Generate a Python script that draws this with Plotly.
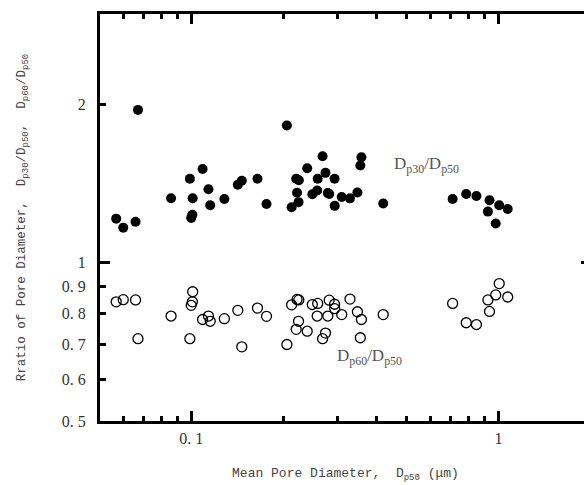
import math
import plotly.graph_objects as go

# Mean pore diameter D_p50 (μm) of each sample
d50 = [0.0570, 0.0601, 0.0659, 0.0671, 0.0860, 0.0990, 0.1000, 0.1009, 0.1011,
       0.1089, 0.1138, 0.1153, 0.1282, 0.1418, 0.1461, 0.1643, 0.1758, 0.2048,
       0.2122, 0.2196, 0.2210, 0.2235, 0.2240, 0.2385, 0.2478, 0.2570, 0.2580,
       0.2676, 0.2735, 0.2783, 0.2812, 0.2928, 0.2931, 0.3089, 0.3286, 0.3474,
       0.3551, 0.3580, 0.4215, 0.7090, 0.7851, 0.8475, 0.9237, 0.9348, 0.9792,
       1.0053, 1.0713]

# D_p30 / D_p50 (filled markers)
r30 = [1.214, 1.167, 1.198, 1.956, 1.328, 1.446, 1.218, 1.235, 1.328,
       1.509, 1.381, 1.287, 1.323, 1.409, 1.434, 1.446, 1.295, 1.826,
       1.276, 1.446, 1.360, 1.305, 1.437, 1.514, 1.351, 1.373, 1.446,
       1.596, 1.484, 1.359, 1.353, 1.446, 1.284, 1.335, 1.327, 1.361,
       1.533, 1.589, 1.297, 1.323, 1.353, 1.341, 1.252, 1.316, 1.188,
       1.287, 1.266]

# D_p60 / D_p50 (open markers)
r60 = [0.843, 0.851, 0.850, 0.717, 0.792, 0.717, 0.830, 0.843, 0.881,
       0.780, 0.792, 0.774, 0.783, 0.812, 0.692, 0.820, 0.791, 0.699,
       0.832, 0.747, 0.852, 0.774, 0.850, 0.741, 0.833, 0.792, 0.837,
       0.717, 0.735, 0.792, 0.849, 0.834, 0.818, 0.797, 0.853, 0.807,
       0.720, 0.780, 0.797, 0.837, 0.769, 0.763, 0.850, 0.808, 0.869,
       0.913, 0.861]

x_major = [0.1, 1]
x_major_text = ["0. 1", "1"]
x_minor = [0.06, 0.07, 0.08, 0.09, 0.2, 0.3, 0.4, 0.5, 0.6, 0.7, 0.8, 0.9, 2]
y_ticks = [0.5, 0.6, 0.7, 0.8, 0.9, 1, 2, 3]
y_tick_text = ["0. 5", "0. 6", "0. 7", "0. 8", "0. 9", "1", "2", ""]

# series labels placed next to each group: (D_p50, ratio)
label30_pos = (0.5816, 1.538)
label60_pos = (0.3796, 0.6606)

TICK_FONT = dict(family="Liberation Serif", size=16, color="#333333")
X_TITLE_FONT = dict(family="Liberation Mono", size=13, color="#444444")
Y_TITLE_FONT = dict(family="Liberation Mono", size=12.5, color="#444444")
LABEL_FONT = dict(family="Liberation Serif", size=17, color="#555555")


def sub(s, px=9):
    return f"<sub><span style='font-size:{px}px'>{s}</span></sub>"


fig = go.Figure()
fig.add_trace(go.Scatter(
    x=d50, y=r30, mode="markers",
    marker=dict(symbol="circle", size=10, color="black", line=dict(width=0)),
    showlegend=False,
))
fig.add_trace(go.Scatter(
    x=d50, y=r60, mode="markers",
    marker=dict(symbol="circle-open", size=10, color="black", line=dict(width=1.3)),
    showlegend=False,
))
# empty trace so the overlay axis carrying the long decade tick is drawn
fig.add_trace(go.Scatter(x=[], y=[], yaxis="y2", showlegend=False))

# annotation positions on log axes are given in log10 units
fig.add_annotation(x=math.log10(label30_pos[0]), y=math.log10(label30_pos[1]),
                   xref="x", yref="y", showarrow=False,
                   text="D<sub>p30</sub>/D<sub>p50</sub>", font=LABEL_FONT)
fig.add_annotation(x=math.log10(label60_pos[0]), y=math.log10(label60_pos[1]),
                   xref="x", yref="y", showarrow=False,
                   text="D<sub>p60</sub>/D<sub>p50</sub>", font=LABEL_FONT)

y_title = ("Rratio of Pore Diameter,\u00a0 D" + sub("p30") + "/D" + sub("p50")
           + ",\u00a0 D" + sub("p60") + "/D" + sub("p50"))
x_title = "Mean Pore Diameter,\u00a0 D" + sub("p50") + " (μm)"

fig.update_layout(
    width=600, height=485,
    margin=dict(l=100, r=9, t=14, b=64),
    paper_bgcolor="white", plot_bgcolor="white",
    xaxis=dict(
        type="log", range=[-1.2968, 0.301], automargin=False,
        tickvals=x_major, ticktext=x_major_text,
        ticks="inside", ticklen=10, tickwidth=3, tickcolor="black",
        minor=dict(tickvals=x_minor, ticks="inside", ticklen=5, tickwidth=3,
                   tickcolor="black", showgrid=False),
        showline=True, linewidth=3, linecolor="black", mirror="ticks",
        showgrid=False, zeroline=False,
        tickfont=TICK_FONT, ticklabelstandoff=1,
        title=dict(text=x_title, font=X_TITLE_FONT, standoff=22),
    ),
    yaxis=dict(
        type="log", range=[-0.3012, 0.474], automargin=False,
        tickvals=y_ticks, ticktext=y_tick_text,
        ticks="inside", ticklen=6, tickwidth=3, tickcolor="black",
        showline=True, linewidth=3, linecolor="black", mirror="ticks",
        showgrid=False, zeroline=False,
        tickfont=TICK_FONT, ticklabelstandoff=8,
        title=dict(text=y_title, font=Y_TITLE_FONT, standoff=34),
    ),
    yaxis2=dict(
        type="log", range=[-0.3012, 0.474], overlaying="y", automargin=False,
        tickvals=[1], ticks="inside", ticklen=10, tickwidth=3, tickcolor="black",
        showticklabels=False, showline=True, linewidth=3, linecolor="black",
        mirror="ticks", showgrid=False, zeroline=False,
    ),
)

fig.write_html(
    "out.html",
    post_script="document.documentElement.style.overflow='hidden';"
                "document.body.style.overflow='hidden';",
)
